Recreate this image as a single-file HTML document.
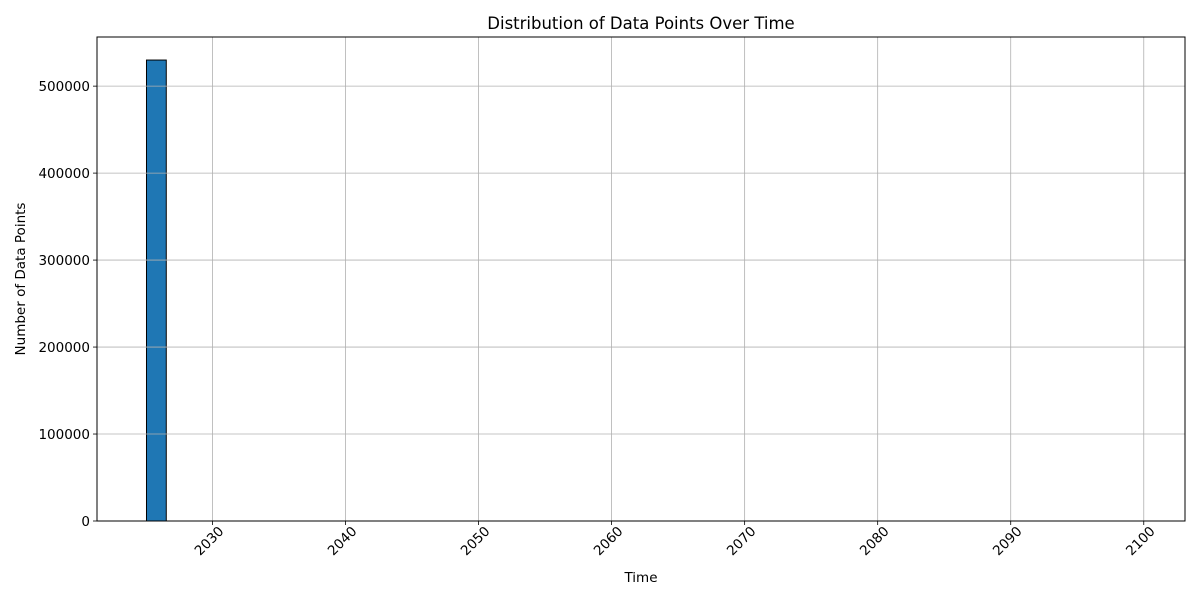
<!DOCTYPE html>
<html><head><meta charset="utf-8"><style>
body{margin:0;background:#fff;font-family:"Liberation Sans","DejaVu Sans",sans-serif}
</style></head><body>
<svg id="chart" width="1200" height="600" xmlns="http://www.w3.org/2000/svg" font-family="DejaVu Sans, Liberation Sans, sans-serif">
<rect width="1200" height="600" fill="#fff"/>
<g id="bars"></g><g id="grid"></g><g id="axes"></g>
</svg>
<script>
const binStart = 2025.04;
const binWidth = 1.487;
const counts = [530000].concat(new Array(49).fill(0));
const xTicks = [2030,2040,2050,2060,2070,2080,2090,2100];
const yTicks = [0,100000,200000,300000,400000,500000];
const L=97,R=1185,T=37,B=521;
const X0=2021.32,X1=2103.1,Ymax=556500;
const sx=v=>L+(v-X0)/(X1-X0)*(R-L);
const sy=v=>B-v/Ymax*(B-T);
const NS='http://www.w3.org/2000/svg';
function mk(tag,attrs,parent){const e=document.createElementNS(NS,tag);for(const k in attrs)e.setAttribute(k,attrs[k]);parent.appendChild(e);return e;}
const bars=document.getElementById('bars'),grid=document.getElementById('grid'),axes=document.getElementById('axes');
counts.forEach((c,i)=>{
  const x1=sx(binStart+i*binWidth),x2=sx(binStart+(i+1)*binWidth);
  const r=mk('rect',{x:x1,y:sy(c),width:x2-x1,height:B-sy(c),fill:'#1f77b4',stroke:'#000','stroke-width':1},bars);
  
  
});
xTicks.forEach(t=>{
  const x=sx(t);
  const g=mk('line',{x1:x,x2:x,y1:T,y2:B,stroke:'#b0b0b0','stroke-width':0.8},grid);
  
  
  mk('line',{x1:x,x2:x,y1:B,y2:B+4,stroke:'#000','stroke-width':0.8},axes);
  const tx=mk('text',{x:x+12,y:B+11,'font-size':13.5,'text-anchor':'end',transform:`rotate(-45 ${x+12} ${B+11})`},axes);
  tx.textContent=t;
  
  
});
yTicks.forEach(t=>{
  const y=sy(t);
  const g=mk('line',{x1:L,x2:R,y1:y,y2:y,stroke:'#b0b0b0','stroke-width':0.8},grid);
  
  
  mk('line',{x1:L-4,x2:L,y1:y,y2:y,stroke:'#000','stroke-width':0.8},axes);
  const tx=mk('text',{x:L-7,y:y+5,'font-size':13.5,'text-anchor':'end'},axes);
  tx.textContent=t;
  
  
});
const fr=mk('rect',{x:L,y:T,width:R-L,height:B-T,fill:'none',stroke:'#000','stroke-width':1},axes);


const title=mk('text',{x:(L+R)/2,y:29,'font-size':16.5,'text-anchor':'middle'},axes);
title.textContent='Distribution of Data Points Over Time';


const xl=mk('text',{x:(L+R)/2,y:582,'font-size':13.5,'text-anchor':'middle'},axes);
xl.textContent='Time';


const yl=mk('text',{x:25,y:(T+B)/2,'font-size':13.5,'text-anchor':'middle',transform:`rotate(-90 25 ${(T+B)/2})`},axes);
yl.textContent='Number of Data Points';


</script>
</body></html>
